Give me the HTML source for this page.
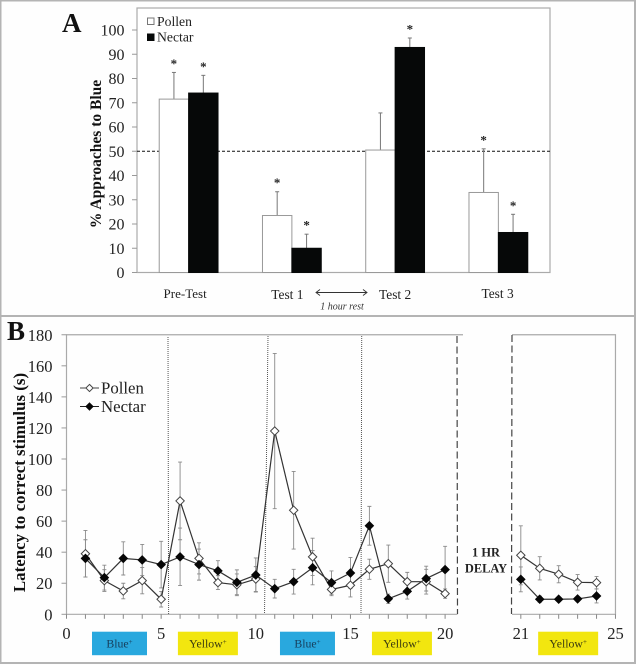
<!DOCTYPE html>
<html>
<head>
<meta charset="utf-8">
<style>
html,body{margin:0;padding:0;background:#fff;width:636px;height:665px;overflow:hidden}
svg{display:block;font-family:"Liberation Serif",serif;filter:blur(0.3px)}
</style>
</head>
<body>
<svg id="fig" xmlns="http://www.w3.org/2000/svg" width="636" height="665" viewBox="0 0 636 665">
  <rect x="0" y="0" width="636" height="665" fill="#fefefe"/>
  <rect x="0.5" y="0.5" width="634.5" height="662.5" fill="none" stroke="#b4b4b4" stroke-width="2"/>
  <line x1="0" x2="636" y1="316" y2="316" stroke="#b4b4b4" stroke-width="2"/>
  <text x="62" y="32" font-size="27" font-weight="bold" fill="#111">A</text>
  <text x="7" y="340" font-size="27" font-weight="bold" fill="#111">B</text>
  <g id="panelA"></g>
  <g id="panelB"></g>
</svg>
<script>
// Panel A data
const groupsA = ['Pre-Test', 'Test 1', 'Test 2', 'Test 3'];
const pollenA = [71.5, 23.5, 50.5, 33];
const nectarA = [74, 10, 92.8, 16.5];
const pollenErrA = [11, 9.8, 15.3, 18];
const nectarErrA = [7.3, 5.8, 3.9, 7.5];
const pollenStarA = [true, true, false, true];
const nectarStarA = [true, true, true, true];
const ticksA = [0, 10, 20, 30, 40, 50, 60, 70, 80, 90, 100];
const chanceA = [50];

// Panel B data
const trialsB = [1,2,3,4,5,6,7,8,9,10,11,12,13,14,15,16,17,18,19,20,21,22,23,24,25];
const pollenB = [39,21.7,15,21.7,9.7,73,36,20.4,19,22.7,118,67,37,16,18.7,29,32.6,21,21,13.3,38,29.6,25.8,20.6,20.4];
const nectarB = [36,23.6,36,35,32,37,32,28,20.6,25.3,16.5,21,30,20.4,26.6,57,10,14.8,23,28.8,22.5,9.7,9.7,9.9,11.8];
const pollenErrB = [15,7,5,8.5,5,25,10,4.5,7,8,50,25,12,4,7.5,6.5,12,6,8,3,19,7.5,5.5,5,4];
const nectarErrB = [12,8,10.7,10,15,18.5,10,6.5,8,11,6,8,11,7.5,10,12.5,3,5,8,15,8,2,1.5,1.5,4.5];
const yTicksB = [0,20,40,60,80,100,120,140,160,180];
const xLabelsB = [0,5,10,15,20,21,25];
const phaseNames = ['Blue','Yellow','Blue','Yellow','Yellow'];
const phaseCentres = [2.8,7.47,12.73,17.72,26.5];

const NS = 'http://www.w3.org/2000/svg';
function mk(parent, tag, attrs, txt) {
  const el = document.createElementNS(NS, tag);
  for (const k in attrs) el.setAttribute(k, attrs[k]);
  if (txt !== undefined) el.textContent = txt;
  parent.appendChild(el);
  return el;
}

/* ---------- Panel A ---------- */
const A = document.getElementById('panelA');
const yA = v => 272.5 - v * 2.425;
const leftA = 137, rightA = 550, topA = 8;
const catW = (rightA - leftA) / groupsA.length;
const xA = i => leftA + catW * (i + 0.5);
const barW = 29.4;

const frameA = mk(A, 'rect', {x:leftA, y:topA, width:rightA-leftA, height:yA(0)-topA, fill:'#fff', stroke:'#aaa', 'stroke-width':1.2});



ticksA.forEach(t => {
  const tk = mk(A, 'line', {x1:leftA-5, x2:leftA, y1:yA(t), y2:yA(t), stroke:'#999', 'stroke-width':1});
  
  
  const lb = mk(A, 'text', {x:124.5, y:yA(t)+5.5, 'text-anchor':'end', 'font-size':16, fill:'#222'}, t);
  
  
});

const chance = mk(A, 'line', {x1:leftA, x2:rightA, y1:yA(chanceA[0]), y2:yA(chanceA[0]), stroke:'#111', 'stroke-width':1, 'stroke-dasharray':'3 2'});



function barsA(vals, errs, stars, side, fill, label) {
  vals.forEach((v, i) => {
    const x0 = side < 0 ? xA(i) - barW : xA(i);
    const cx = x0 + barW / 2;
    const top = yA(v + errs[i]);
    const stem = mk(A, 'line', {x1:cx, x2:cx, y1:top, y2:yA(v), stroke:'#777', 'stroke-width':1});
    
    
    const cap = mk(A, 'line', {x1:cx-2, x2:cx+2, y1:top, y2:top, stroke:'#777', 'stroke-width':1});
    
    
    const bar = mk(A, 'rect', {x:x0, y:yA(v), width:barW, height:yA(0)-yA(v), fill:fill, stroke: fill === '#fff' ? '#999' : '#060808', 'stroke-width':1});
    
    
    if (stars[i]) {
      const st = mk(A, 'text', {x:cx, y:top-4.5, 'text-anchor':'middle', 'font-size':13, 'font-weight':'bold', fill:'#222'}, '*');
      
      
    }
  });
}
barsA(pollenA, pollenErrA, pollenStarA, -1, '#fff', 'pollen');
barsA(nectarA, nectarErrA, nectarStarA, 1, '#060808', 'nectar');

const catOffsets = [-3.5, -4.5, 0, -0.8];
const catYs = [298, 299, 299, 298];
groupsA.forEach((g, i) => {
  const lb = mk(A, 'text', {x:xA(i)+catOffsets[i], y:catYs[i], 'text-anchor':'middle', 'font-size':i===0?13:13.4, fill:'#222'}, g);
  
  
});

const yTitleA = mk(A, 'text', {transform:'translate(101,154) rotate(-90)', 'text-anchor':'middle', 'font-size':15.5, 'font-weight':'bold', fill:'#111'}, '% Approaches to Blue');



const legAp = mk(A, 'rect', {x:147.5, y:18, width:6.5, height:6.5, fill:'#fff', stroke:'#777', 'stroke-width':1});


const legApT = mk(A, 'text', {x:157, y:26, 'font-size':13.7, fill:'#222'}, 'Pollen');


const legAn = mk(A, 'rect', {x:147, y:33.5, width:7.5, height:7.5, fill:'#060808'});


const legAnT = mk(A, 'text', {x:157, y:41.5, 'font-size':13.7, fill:'#222'}, 'Nectar');



const arrow = mk(A, 'path', {d:'M316 292.5H367M320 289.5L316 292.5L320 295.5M363 289.5L367 292.5L363 295.5', fill:'none', stroke:'#333', 'stroke-width':0.9});


const rest = mk(A, 'text', {x:342, y:309.5, 'text-anchor':'middle', 'font-size':10, 'font-style':'italic', fill:'#333'}, '1 hour rest');



/* ---------- Panel B ---------- */
const B = document.getElementById('panelB');
const yB = v => 614.3 - v * 1.553;
const xPos = u => 66.5 + u * 18.93;
const xB = t => xPos(t <= 20 ? t : t + 3);
const labelU = l => (l <= 20 ? l : (l === 21 ? 24 : l + 4));
const gapL = 457.5, gapR = 512;

const fr = mk(B, 'path', {d:`M463 ${yB(180)}H${xPos(0)}V${yB(0)}H${gapL}M${gapR} ${yB(180)}H${xPos(29)}V${yB(0)}H${gapR}`, fill:'none', stroke:'#aaa', 'stroke-width':1.2});



yTicksB.forEach(t => {
  const tk = mk(B, 'line', {x1:61.5, x2:66.5, y1:yB(t), y2:yB(t), stroke:'#999', 'stroke-width':1});
  
  
  const lb = mk(B, 'text', {x:52.5, y:yB(t)+6, 'text-anchor':'end', 'font-size':16.5, fill:'#222'}, t);
  
  
});

for (let u = 0; u <= 29; u++) {
  if (u > 20 && u < 24) continue;
  const tk = mk(B, 'line', {x1:xPos(u), x2:xPos(u), y1:yB(0), y2:yB(0)+4.5, stroke:'#888', 'stroke-width':1});
  
  
}
xLabelsB.forEach(l => {
  const lb = mk(B, 'text', {x:xPos(labelU(l)), y:639, 'text-anchor':'middle', 'font-size':16.5, fill:'#222'}, l);
  
  
});

const dashes = [[457, 336, 457.5, 614], [512, 335, 511.5, 614]];
dashes.forEach(d => {
  const l = mk(B, 'line', {x1:d[0], y1:d[1], x2:d[2], y2:d[3], stroke:'#444', 'stroke-width':1.2, 'stroke-dasharray':'7 3.5'});
  
  
});
const dots = [[168, 337, 168.6, 614], [268, 336, 264.5, 614], [361.7, 336, 361, 614]];
dots.forEach(d => {
  const l = mk(B, 'line', {x1:d[0], y1:d[1], x2:d[2], y2:d[3], stroke:'#555', 'stroke-width':1, 'stroke-dasharray':'1 1'});
  
  
});

function errsB(vals, errs, label) {
  vals.forEach((v, i) => {
    const x = xB(trialsB[i]), t = yB(v + errs[i]), b = yB(Math.max(0, v - errs[i]));
    const e = mk(B, 'path', {d:`M${x} ${t}V${b}M${x-2} ${t}H${x+2}M${x-2} ${b}H${x+2}`, fill:'none', stroke:'#8a8a8a', 'stroke-width':0.9});
    
    
  });
}
errsB(pollenB, pollenErrB, 'pollen');
errsB(nectarB, nectarErrB, 'nectar');

function lineB(vals, label) {
  const before = [], after = [];
  vals.forEach((v, i) => {
    (trialsB[i] <= 20 ? before : after).push(xB(trialsB[i]) + ',' + yB(v));
  });
  [before, after].forEach(pts => {
    const l = mk(B, 'polyline', {points:pts.join(' '), fill:'none', stroke:'#333', 'stroke-width':1.2});
    
    
  });
}
function diamond(x, y, r, filled, name) {
  const d = mk(B, 'path', {d:`M${x} ${y-r}L${x+r} ${y}L${x} ${y+r}L${x-r} ${y}Z`, fill:filled ? '#060606' : '#fff', stroke:filled ? '#060606' : '#444', 'stroke-width':filled ? 0.6 : 1});
  
  
}
lineB(pollenB, 'pollen');
lineB(nectarB, 'nectar');
pollenB.forEach((v, i) => diamond(xB(trialsB[i]), yB(v), 4.2, false, 'point-pollen'));
nectarB.forEach((v, i) => diamond(xB(trialsB[i]), yB(v), 4.4, true, 'point-nectar'));

const yTitleB = mk(B, 'text', {transform:'translate(25,482.5) rotate(-90)', 'text-anchor':'middle', 'font-size':16.9, 'font-weight':'bold', fill:'#111'}, 'Latency to correct stimulus (s)');



const legLine1 = mk(B, 'line', {x1:80, x2:99, y1:388, y2:388, stroke:'#444', 'stroke-width':1.1});


diamond(89.5, 388, 3.6, false, 'legend-marker-pollen');
const legT1 = mk(B, 'text', {x:101, y:393.5, 'font-size':16.8, fill:'#222'}, 'Pollen');


const legLine2 = mk(B, 'line', {x1:80, x2:99, y1:406.5, y2:406.5, stroke:'#222', 'stroke-width':1.1});


diamond(89.5, 406.5, 3.8, true, 'legend-marker-nectar');
const legT2 = mk(B, 'text', {x:101, y:412, 'font-size':16.8, fill:'#222'}, 'Nectar');



const delay1 = mk(B, 'text', {x:486, y:556.5, 'text-anchor':'middle', 'font-size':12.4, 'font-weight':'bold', fill:'#222'}, '1 HR');


const delay2 = mk(B, 'text', {x:486, y:572.5, 'text-anchor':'middle', 'font-size':12.4, 'font-weight':'bold', fill:'#222'}, 'DELAY');



phaseNames.forEach((name, i) => {
  const isBlue = name === 'Blue';
  const cx = xPos(phaseCentres[i]);
  const w = isBlue ? 55 : 60;
  const r = mk(B, 'rect', {x:cx-w/2, y:631.7, width:w, height:23.5, fill:isBlue ? '#29a8de' : '#f2e60f'});
  
  
  const t = mk(B, 'text', {x:cx, y:647.5, 'text-anchor':'middle', 'font-size':11.8, fill:isBlue ? '#17405e' : '#3a3a10'}, name);
  
  
  const sup = mk(t, 'tspan', {dy:-3.5, 'font-size':7}, '+');
  
  
});
</script>
</body>
</html>
